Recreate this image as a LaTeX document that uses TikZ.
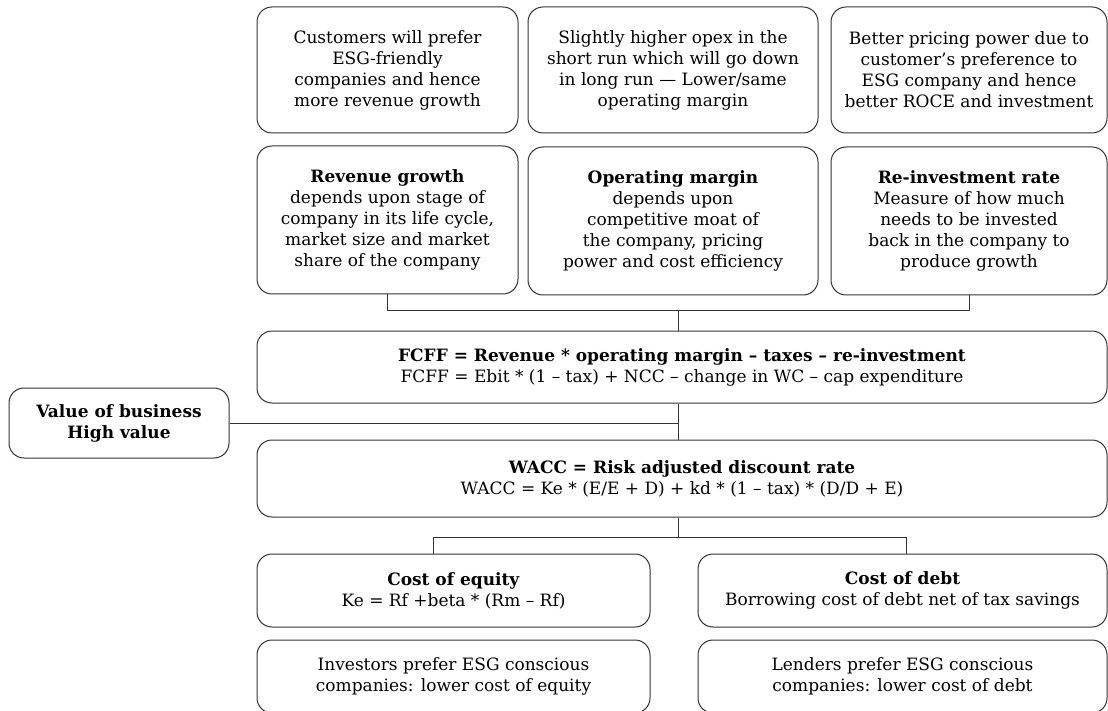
\documentclass[tikz,border=0pt]{standalone}
\usepackage{fontspec}
\setmainfont{DejaVu Serif}
\usepackage{xcolor}
\usepackage{tikz}
\usetikzlibrary{positioning}
\definecolor{edgec}{HTML}{333333}
\tikzset{
  basenode/.style={rectangle, rounded corners=15pt, draw=edgec, fill=white,
    line width=1pt, align=center, inner sep=2pt,
    font=\fontsize{17}{21}\selectfont},
  esgnode/.style={basenode, minimum height=126pt},
  drivernode/.style={basenode, minimum height=148pt},
  formulanode/.style={basenode, minimum width=850pt},
  costnode/.style={basenode, minimum height=73pt},
  linkedge/.style={draw=edgec, line width=1pt},
}
\begin{document}
\begin{tikzpicture}[x=1pt, y=-1pt]
  \useasboundingbox (0,0) rectangle (1108,711);
  % ESG effects
  \node[esgnode, minimum width=261pt] (esga) at (387.5,70) {Customers will prefer\\ESG-friendly\\companies and hence\\more revenue growth};
  \node[esgnode, minimum width=290pt] (esgb) at (673,70) {Slightly higher opex in the\\short run which will go down\\in long run --- Lower/same\\operating margin};
  \node[esgnode, minimum width=276pt] (esgc) at (969,70) {Better pricing power due to\\customer's preference to\\ESG company and hence\\better ROCE and investment};
  % value drivers
  \node[drivernode, minimum width=261pt] (rev) at (387.5,220) {\textbf{Revenue growth}\\depends upon stage of\\company in its life cycle,\\market size and market\\share of the company};
  \node[drivernode, minimum width=290pt] (opm) at (673,221) {\textbf{Operating margin}\\depends upon\\competitive moat of\\the company, pricing\\power and cost efficiency};
  \node[drivernode, minimum width=276pt] (reinv) at (969,221) {\textbf{Re-investment rate}\\Measure of how much\\needs to be invested\\back in the company to\\produce growth};
  % cash flow and discount rate
  \node[formulanode, minimum height=72pt] (fcff) at (682,367) {\textbf{FCFF = Revenue * operating margin -- taxes -- re-investment}\\FCFF = Ebit * (1 -- tax) + NCC -- change in WC -- cap expenditure};
  \node[basenode, minimum width=220pt, minimum height=70pt] (value) at (119,423) {\textbf{Value of business}\\\textbf{High value}};
  \node[formulanode, minimum height=77pt] (wacc) at (682,478.5) {\textbf{WACC = Risk adjusted discount rate}\\WACC = Ke * (E/E + D) + kd * (1 -- tax) * (D/D + E)};
  % cost of capital
  \node[costnode, minimum width=393pt] (ke) at (453.5,590.5) {\textbf{Cost of equity}\\Ke = Rf +beta * (Rm -- Rf)};
  \node[costnode, minimum width=409pt] (kd) at (902.5,590.5) {\textbf{Cost of debt}\\Borrowing cost of debt net of tax savings};
  \node[costnode, minimum width=393pt] (inv) at (453.5,676.5) {Investors prefer ESG conscious\\companies: lower cost of equity};
  \node[costnode, minimum width=409pt] (lend) at (902.5,676.5) {Lenders prefer ESG conscious\\companies: lower cost of debt};
  % connectors
  \coordinate (bus) at (678,310);
  \draw[linkedge] (rev.south) -- (rev.south |- bus) -| (reinv.south);
  \draw[linkedge] (bus) -- (bus |- fcff.north);
  \draw[linkedge] (bus |- fcff.south) -- (bus |- wacc.north);
  \draw[linkedge] (value.east) -- (value.east -| bus);
  \draw[linkedge] (bus |- wacc.south) -- ++(0,20) coordinate (costbus)
    -| ([xshift=-20pt]ke.north);
  \draw[linkedge] (costbus) -| ([xshift=4pt]kd.north);
\end{tikzpicture}
\end{document}
